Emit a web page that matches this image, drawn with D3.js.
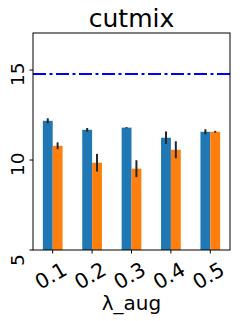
<!DOCTYPE html>
<html><head><meta charset="utf-8">
<script src="https://cdn.jsdelivr.net/npm/d3@7"></script>
<style>body{margin:0;background:#fff}svg{display:block}text{font-family:"DejaVu Sans",sans-serif}</style>
</head><body>
<script>
const categories = ["0.1","0.2","0.3","0.4","0.5"];
const blueValues = [12.18, 11.68, 11.80, 11.24, 11.57];
const blueErrors = [0.14, 0.10, 0.03, 0.35, 0.14];
const orangeValues = [10.79, 9.85, 9.52, 10.57, 11.57];
const orangeErrors = [0.19, 0.49, 0.47, 0.47, 0.05];
const baselineValue = 14.78;
const yTicks = [5, 10, 15];
const title = "cutmix";
const xLabel = "λ_aug";

const W = 240, H = 321;
const m = {l:33, r:230, t:33, b:250};
const svg = d3.select("body").append("svg").attr("width", W).attr("height", H);
const x = d3.scaleLinear().domain([-0.5, categories.length - 0.5]).range([m.l, m.r]);
const y = d3.scaleLinear().domain([5, 17.06]).range([m.b, m.t]);
const bw = 0.25;

const series = [
  {vals: blueValues, errs: blueErrors, color: "#1f77b4", off: -bw},
  {vals: orangeValues, errs: orangeErrors, color: "#ff7f0e", off: 0}
];
series.forEach(s => {
  svg.append("g").selectAll("rect").data(s.vals).join("rect")
    .attr("x", (d,i) => x(i + s.off))
    .attr("width", x(bw) - x(0))
    .attr("y", d => y(d))
    .attr("height", d => y(5) - y(d))
    .attr("fill", s.color);
});
series.forEach(s => {
  svg.append("g").selectAll("line").data(s.vals).join("line")
    .attr("x1", (d,i) => x(i + s.off + bw/2))
    .attr("x2", (d,i) => x(i + s.off + bw/2))
    .attr("y1", (d,i) => y(d - s.errs[i]))
    .attr("y2", (d,i) => y(d + s.errs[i]))
    .attr("stroke", "#262626").attr("stroke-width", 2);
});

svg.append("line")
  .attr("x1", m.l).attr("x2", m.r)
  .attr("y1", y(baselineValue)).attr("y2", y(baselineValue))
  .attr("stroke", "#0000ff").attr("stroke-width", 2)
  .attr("stroke-dasharray", "13,3.5,3,3.5");

// frame
svg.append("rect").attr("x", m.l).attr("y", m.t)
  .attr("width", m.r - m.l).attr("height", m.b - m.t)
  .attr("fill", "none").attr("stroke", "#000").attr("stroke-width", 1);

// y ticks
const yg = svg.append("g");
yTicks.forEach(t => {
  yg.append("line").attr("x1", m.l - 3.5).attr("x2", m.l)
    .attr("y1", y(t)).attr("y2", y(t)).attr("stroke", "#000").attr("stroke-width", 1);
  yg.append("text").attr("transform", `translate(23.5,${y(t) + 16}) rotate(-90)`)
    .attr("text-anchor", "start").attr("font-size", 18.5).attr("fill", "#000").text(t);
});

// x ticks
const xg = svg.append("g");
categories.forEach((c, i) => {
  xg.append("line").attr("x1", x(i)).attr("x2", x(i))
    .attr("y1", m.b).attr("y2", m.b + 3.5).attr("stroke", "#000").attr("stroke-width", 1);
  xg.append("text").attr("transform", `translate(${x(i) - 2},275.5) rotate(-30)`)
    .attr("text-anchor", "middle").attr("dy", "0.36em")
    .attr("font-size", 20.5).attr("fill", "#000").text(c);
});

svg.append("text").attr("x", (m.l + m.r) / 2).attr("y", 27)
  .attr("text-anchor", "middle").attr("font-size", 25).attr("fill", "#000").text(title);
svg.append("text").attr("x", (m.l + m.r) / 2).attr("y", 310)
  .attr("text-anchor", "middle").attr("font-size", 20).attr("fill", "#000").text(xLabel);
</script>
</body></html>
